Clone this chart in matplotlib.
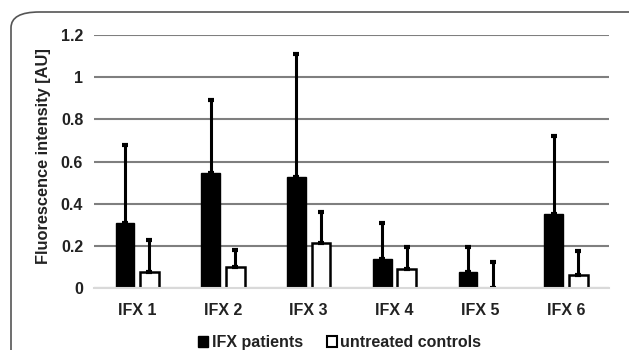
import matplotlib
matplotlib.use("Agg")
import matplotlib.pyplot as plt
import numpy as np
from matplotlib.patches import FancyBboxPatch, Patch

# values
categories = ["IFX 1", "IFX 2", "IFX 3", "IFX 4", "IFX 5", "IFX 6"]
ifx_mean = [0.31, 0.547, 0.525, 0.14, 0.076, 0.352]
ifx_upper = [0.68, 0.89, 1.11, 0.307, 0.193, 0.72]
ctrl_mean = [0.077, 0.10, 0.215, 0.09, 0.0, 0.063]
ctrl_upper = [0.23, 0.18, 0.36, 0.196, 0.123, 0.177]

plt.rcParams["font.family"] = ["Liberation Sans", "DejaVu Sans"]
plt.rcParams["font.weight"] = "bold"
txt = "#222222"

fig = plt.figure(figsize=(6.29, 3.5), dpi=100)
ax = fig.add_axes([0.150, 0.177, 0.818, 0.723])

# rounded frame around the chart
frame = FancyBboxPatch((11 / 629, -0.2), 1.2, 1.2 - 12 / 350,
                       boxstyle="round,pad=0,rounding_size=0.045",
                       transform=fig.transFigure, fill=False,
                       edgecolor="#555555", linewidth=1.2, clip_on=False)
fig.patches.append(frame)

x = np.arange(len(categories))
w = 0.22
off = 0.143
err_ifx = [[0] * len(x), [u - m for u, m in zip(ifx_upper, ifx_mean)]]
err_ctrl = [[0] * len(x), [u - m for u, m in zip(ctrl_upper, ctrl_mean)]]
ekw = dict(ecolor="black", elinewidth=2.2, capsize=2.4, capthick=3)

ax.bar(x - off, ifx_mean, w, color="black", edgecolor="black", linewidth=1.0,
       yerr=err_ifx, error_kw=ekw, zorder=3)
ctrl_lw = [1.8 if v > 0 else 0 for v in ctrl_mean]
ax.bar(x + off, ctrl_mean, w, color="white", edgecolor="black", linewidth=ctrl_lw,
       yerr=err_ctrl, error_kw=ekw, zorder=3)

ax.set_xlim(-0.5, len(x) - 0.5)
ax.set_ylim(0, 1.2)
ax.set_yticks([0, 0.2, 0.4, 0.6, 0.8, 1, 1.2])
ax.set_yticklabels(["0", "0.2", "0.4", "0.6", "0.8", "1", "1.2"])
ax.set_xticks(x)
ax.set_xticklabels(categories)
ax.yaxis.grid(True, color="#7f7f7f", linewidth=1.5)
ax.set_axisbelow(True)
for s in ["top", "right", "left"]:
    ax.spines[s].set_visible(False)
ax.spines["bottom"].set_color("#d9d9d9")
ax.spines["bottom"].set_linewidth(1.5)
ax.spines["bottom"].set_zorder(4)
ax.tick_params(length=0, labelsize=11.5, colors=txt)
ax.tick_params(axis="x", pad=11)
ax.tick_params(axis="y", pad=8)
ax.set_ylabel("Fluorescence intensity [AU]", fontsize=11.8, color=txt,
              fontweight="bold")
ax.yaxis.set_label_coords(-0.085, 0.52)

handles = [Patch(facecolor="black", edgecolor="black"),
           Patch(facecolor="white", edgecolor="black", linewidth=1.5)]
fig.legend(handles, ["IFX patients", "untreated controls"], loc="center",
           bbox_to_anchor=(0.54, 0.022), ncol=2, frameon=False,
           handlelength=0.65, handleheight=0.65, handletextpad=0.2,
           columnspacing=1.5, prop=dict(size=11.5, weight="bold"),
           labelcolor=txt)

fig.savefig("out.png", dpi=100)
